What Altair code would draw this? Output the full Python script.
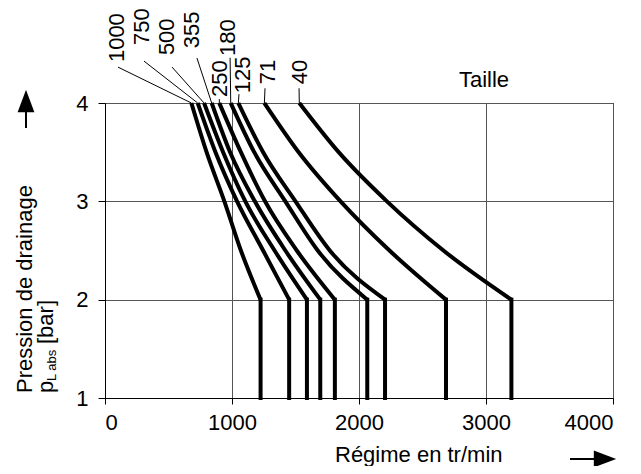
import altair as alt
import pandas as pd

# Taille (pump size) curves: speed in rpm read at each drain pressure level
sizes = ["1000", "750", "500", "355", "250", "180", "125", "71", "40"]
pressure_curve = [4.0, 3.5, 3.0, 2.5, 2.0]
rpm_p40 = [680, 730, 780, 840, 900, 990, 1050, 1255, 1530]
rpm_p35 = [800, 870, 930, 985, 1070, 1175, 1245, 1525, 1840]
rpm_p30 = [940, 1040, 1105, 1180, 1260, 1420, 1500, 1855, 2220]
rpm_p25 = [1070, 1245, 1335, 1420, 1510, 1675, 1770, 2240, 2665]
rpm_p20 = [1225, 1450, 1590, 1695, 1810, 2065, 2205, 2685, 3200]
pressure_min = 1.0

x_ticks = [0, 1000, 2000, 3000, 4000]
y_ticks = [1, 2, 3, 4]

# label anchors (data units) and leader line starts
label_rpm = [94, 291, 488, 685, 906, 969, 1087, 1283, 1535]
label_bar = [4.416, 4.589, 4.487, 4.558, 4.061, 4.477, 4.10, 4.19, 4.19]
leader_rpm = [102, 307, 528, 724, 900, 985, 1055, 1260, 1528]
leader_bar = [4.365, 4.426, 4.365, 4.457, 4.04, 4.46, 4.09, 4.15, 4.15]

FONT = "Liberation Sans"
FS = 22

rows = []
cols = [rpm_p40, rpm_p35, rpm_p30, rpm_p25, rpm_p20]
for i, s in enumerate(sizes):
    for p, col in zip(pressure_curve, cols):
        rows.append({"size": s, "p": p, "rpm": col[i]})
curve_df = pd.DataFrame(rows)

vert_df = pd.DataFrame({"size": sizes, "rpm": rpm_p20,
                        "p_hi": [2.0] * len(sizes), "p_lo": [pressure_min] * len(sizes)})

lab_df = pd.DataFrame({"size": sizes, "lx": label_rpm, "ly": label_bar,
                       "sx": leader_rpm, "sy": leader_bar, "ex": rpm_p40,
                       "ey": [4.0] * len(sizes)})

xscale = alt.Scale(domain=[0, 4000], nice=False, zero=False)
yscale = alt.Scale(domain=[1, 4], nice=False, zero=False)

xaxis = alt.Axis(values=x_ticks, format="d", title=None, labelFontSize=FS, labelFont=FONT,
                 tickSize=6, labelPadding=8, grid=True, gridColor="#555555", gridWidth=1,
                 domainColor="black", tickColor="black", labelColor="black")
yaxis = alt.Axis(values=y_ticks, format="d", title=None, labelFontSize=FS, labelFont=FONT,
                 tickSize=7, labelPadding=10, grid=True, gridColor="#555555", gridWidth=1,
                 domainColor="black", tickColor="black", labelColor="black")

curves = alt.Chart(curve_df).mark_line(
    interpolate="monotone", strokeWidth=4, color="black", strokeCap="butt"
).encode(
    x=alt.X("rpm:Q", scale=xscale, axis=xaxis),
    y=alt.Y("p:Q", scale=yscale, axis=yaxis),
    detail="size:N",
    order="rpm:Q",
)

verts = alt.Chart(vert_df).mark_rule(strokeWidth=4, color="black", strokeCap="square").encode(
    x="rpm:Q", y="p_hi:Q", y2="p_lo:Q"
)

leaders = alt.Chart(lab_df).mark_rule(strokeWidth=1, color="black").encode(
    x="sx:Q", y="sy:Q", x2="ex:Q", y2="ey:Q"
)

labels = alt.Chart(lab_df).mark_text(
    angle=270, align="left", baseline="middle", fontSize=FS, font=FONT, color="black"
).encode(x="lx:Q", y="ly:Q", text="size:N")

dummy = pd.DataFrame({"a": [0]})

def txt(text, x, y, size=FS, angle=0, align="left", baseline="middle"):
    return alt.Chart(dummy).mark_text(
        angle=angle, align=align, baseline=baseline, fontSize=size, font=FONT, color="black"
    ).encode(x=alt.value(x), y=alt.value(y), text=alt.value(text))

taille = alt.Chart(dummy).mark_text(
    fontSize=FS, font=FONT, color="black", align="center", baseline="middle"
).encode(x=alt.datum(2984), y=alt.datum(4.234), text=alt.value("Taille"))

xtitle = txt("Régime en tr/min", 230, 359, align="left", baseline="alphabetic")
ytitle1 = txt("Pression de drainage", -73, 290, angle=270, baseline="alphabetic")
ytitle2a = txt("p", -52, 290, angle=270, baseline="alphabetic")
ytitle2b = txt("L abs", -49, 278, size=13, angle=270, baseline="alphabetic")
ytitle2c = txt("[bar]", -52, 241, angle=270, baseline="alphabetic")

arrow_r = alt.Chart(dummy).mark_rule(strokeWidth=2, color="black").encode(
    x=alt.value(465), x2=alt.value(494), y=alt.value(356))
head_r = alt.Chart(dummy).mark_point(shape="M-1,-0.75L1,0L-1,0.75Z", filled=True, size=500,
                                     strokeWidth=0, color="black", opacity=1).encode(
    x=alt.value(500), y=alt.value(356))
arrow_u = alt.Chart(dummy).mark_rule(strokeWidth=2, color="black").encode(
    x=alt.value(-79), y=alt.value(4), y2=alt.value(25))
head_u = alt.Chart(dummy).mark_point(shape="M-0.75,1L0,-1L0.75,1Z", filled=True, size=500,
                                     strokeWidth=0, color="black", opacity=1).encode(
    x=alt.value(-79), y=alt.value(-2))

chart = alt.layer(
    curves, verts, leaders, labels, taille, xtitle, ytitle1, ytitle2a, ytitle2b, ytitle2c,
    arrow_r, head_r, arrow_u, head_u
).properties(
    width=508, height=295,
    autosize=alt.AutoSizeParams(type="none"),
    padding={"left": 97, "top": 95, "right": 20, "bottom": 68},
).configure_view(stroke="black", strokeWidth=1)

chart.save("out.html", embed_options={"renderer": "svg", "actions": False})
